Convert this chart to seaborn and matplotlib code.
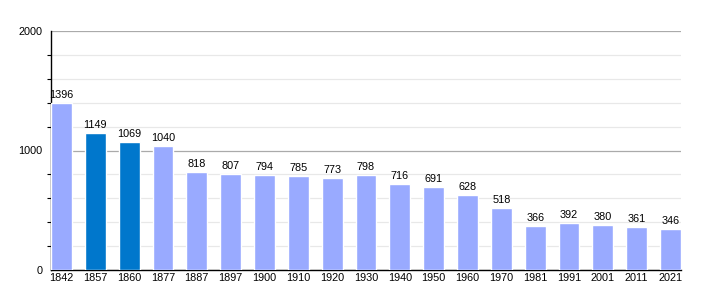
import matplotlib
matplotlib.use("Agg")
import matplotlib.pyplot as plt
import seaborn as sns
import pandas as pd
from matplotlib.ticker import MultipleLocator

years = ["1842", "1857", "1860", "1877", "1887", "1897", "1900", "1910", "1920", "1930",
         "1940", "1950", "1960", "1970", "1981", "1991", "2001", "2011", "2021"]
population = [1396, 1149, 1069, 1040, 818, 807, 794, 785, 773, 798,
              716, 691, 628, 518, 366, 392, 380, 361, 346]
highlight = ["1857", "1860"]

df = pd.DataFrame({"year": years, "pop": population})
light = "#99AAFF"
dark = "#0077CC"
palette = {y: (dark if y in highlight else light) for y in years}

sns.set_theme(style="white")
plt.rcParams["font.family"] = ["Liberation Sans", "DejaVu Sans"]
plt.rcParams["text.color"] = "black"
plt.rcParams["xtick.color"] = "black"
plt.rcParams["ytick.color"] = "black"
plt.rcParams["xtick.labelcolor"] = "black"
plt.rcParams["ytick.labelcolor"] = "black"

fig = plt.figure(figsize=(7.1, 3.0), dpi=100)
ax = fig.add_axes([51/710, 30/300, (681-51)/710, (270-31)/300])

w = 0.62
sns.barplot(data=df, x="year", y="pop", hue="year", palette=palette, legend=False,
            width=w, ax=ax, saturation=1, zorder=3)

for i, v in enumerate(population):
    ax.text(i, v + 25, str(v), ha="center", va="bottom", fontsize=7.8, color="black", zorder=4)

ax.set_ylim(0, 2000)
ax.set_xlim(-w/2, len(years) - 1 + w/2)
ax.yaxis.set_major_locator(MultipleLocator(1000))
ax.yaxis.set_minor_locator(MultipleLocator(200))
ax.grid(axis="y", which="major", color="#aaaaaa", linewidth=0.9, zorder=0)
ax.grid(axis="y", which="minor", color="#e8e8e8", linewidth=0.9, zorder=0)
ax.set_axisbelow(True)

for s in ["top", "right"]:
    ax.spines[s].set_visible(False)
ax.spines["left"].set_color("black")
ax.spines["bottom"].set_color("black")
ax.spines["left"].set_linewidth(1.0)
ax.spines["bottom"].set_linewidth(1.0)

ax.tick_params(axis="y", which="major", left=True, direction="out", length=0,
               labelsize=7.8, pad=6, labelcolor="black")
ax.tick_params(axis="y", which="minor", left=True, direction="out", length=3,
               width=0.8, color="black")
ax.tick_params(axis="x", length=0, labelsize=7.8, pad=2, labelcolor="black")
ax.set_xlabel("")
ax.set_ylabel("")

fig.savefig("out.png", dpi=100)
